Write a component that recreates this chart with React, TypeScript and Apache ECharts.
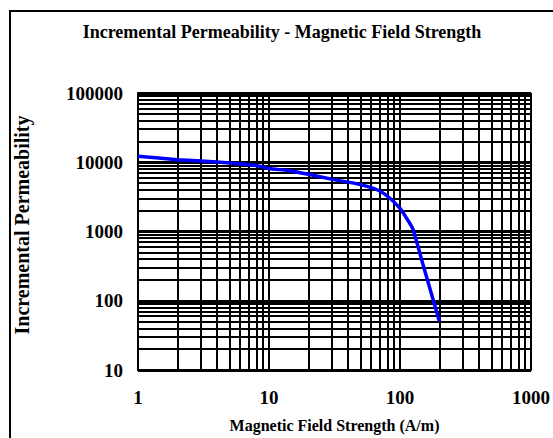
import React, { useEffect, useRef } from "react";
import * as echarts from "echarts";

const fieldStrength = [1, 2, 4, 8, 10, 14, 20, 30, 50, 70, 85, 100, 110, 125, 150, 175, 200];
const permeability = [12200, 10900, 10100, 9000, 8100, 7600, 6700, 5700, 4750, 3850, 2950, 2150, 1650, 1100, 330, 120, 50];

const xDecades = [1, 10, 100];
const yDecades = [10, 100, 1000, 10000];
const minorSteps = [2, 3, 4, 5, 6, 7, 8, 9];

const FONT = "Liberation Serif";

export default function App() {
  const ref = useRef<HTMLDivElement>(null);
  useEffect(() => {
    if (!ref.current) return;
    const chart = echarts.init(ref.current, null, { renderer: "svg" });
    const xMinor: any[] = [];
    xDecades.forEach((d) => minorSteps.forEach((k) => xMinor.push({ xAxis: k * d })));
    const yMinor: any[] = [];
    yDecades.forEach((d) => minorSteps.forEach((k) => yMinor.push({ yAxis: k * d })));
    const data = fieldStrength.map((h, i) => [h, permeability[i]]);
    chart.setOption({
      animation: false,
      backgroundColor: "#ffffff",
      title: {
        text: "Incremental Permeability - Magnetic Field Strength",
        left: 277,
        top: 18,
        textAlign: "center",
        textStyle: { fontFamily: FONT, fontWeight: "bold", fontSize: 18, color: "#000" },
      },
      graphic: [
        {
          type: "rect",
          shape: { x: 10, y: 11, width: 600, height: 500 },
          style: { fill: "none", stroke: "#000", lineWidth: 2 },
          silent: true,
        },
        {
          type: "text",
          x: 22,
          y: 225,
          rotation: Math.PI / 2,
          style: {
            text: "Incremental Permeability",
            fontFamily: FONT,
            fontWeight: "bold",
            fontSize: 20,
            fill: "#000",
            align: "center",
            verticalAlign: "middle",
          },
          silent: true,
        },
      ],
      grid: { left: 138, top: 93, right: 20, bottom: 66, containLabel: false },
      xAxis: {
        type: "log",
        logBase: 10,
        min: 1,
        max: 1000,
        name: "Magnetic Field Strength (A/m)",
        nameLocation: "middle",
        nameGap: 47,
        nameTextStyle: { fontFamily: FONT, fontWeight: "bold", fontSize: 16, color: "#000" },
        axisLine: { show: true, lineStyle: { color: "#000", width: 2 } },
        axisTick: { show: false },
        axisLabel: {
          margin: 18,
          fontFamily: FONT,
          fontWeight: "bold",
          fontSize: 19,
          color: "#000",
          formatter: (v: number) => String(Math.round(v)),
        },
        splitLine: { show: true, lineStyle: { color: "#000", width: 2 } },
        minorTick: { show: false },
        minorSplitLine: { show: false },
      },
      yAxis: {
        type: "log",
        logBase: 10,
        min: 10,
        max: 100000,
        axisLine: { show: true, lineStyle: { color: "#000", width: 2 } },
        axisTick: { show: false },
        axisLabel: {
          margin: 15,
          fontFamily: FONT,
          fontWeight: "bold",
          fontSize: 19,
          color: "#000",
          formatter: (v: number) => String(Math.round(v)),
        },
        splitLine: { show: true, lineStyle: { color: "#000", width: 3 } },
        minorTick: { show: false },
        minorSplitLine: { show: false },
      },
      series: [
        {
          type: "line",
          data: [],
          silent: true,
          markLine: {
            silent: true,
            symbol: "none",
            label: { show: false },
            lineStyle: { color: "#000", width: 2, type: "solid" },
            data: [...xMinor, ...yMinor],
          },
        },
        {
          type: "line",
          data,
          showSymbol: false,
          smooth: 0.2,
          lineStyle: { color: "#0000ff", width: 3.5 },
          z: 5,
        },
      ],
    });
    return () => chart.dispose();
  }, []);
  return (
    <div
      ref={ref}
      style={{ position: "fixed", left: 0, top: 0, width: 553, height: 438 }}
    />
  );
}
